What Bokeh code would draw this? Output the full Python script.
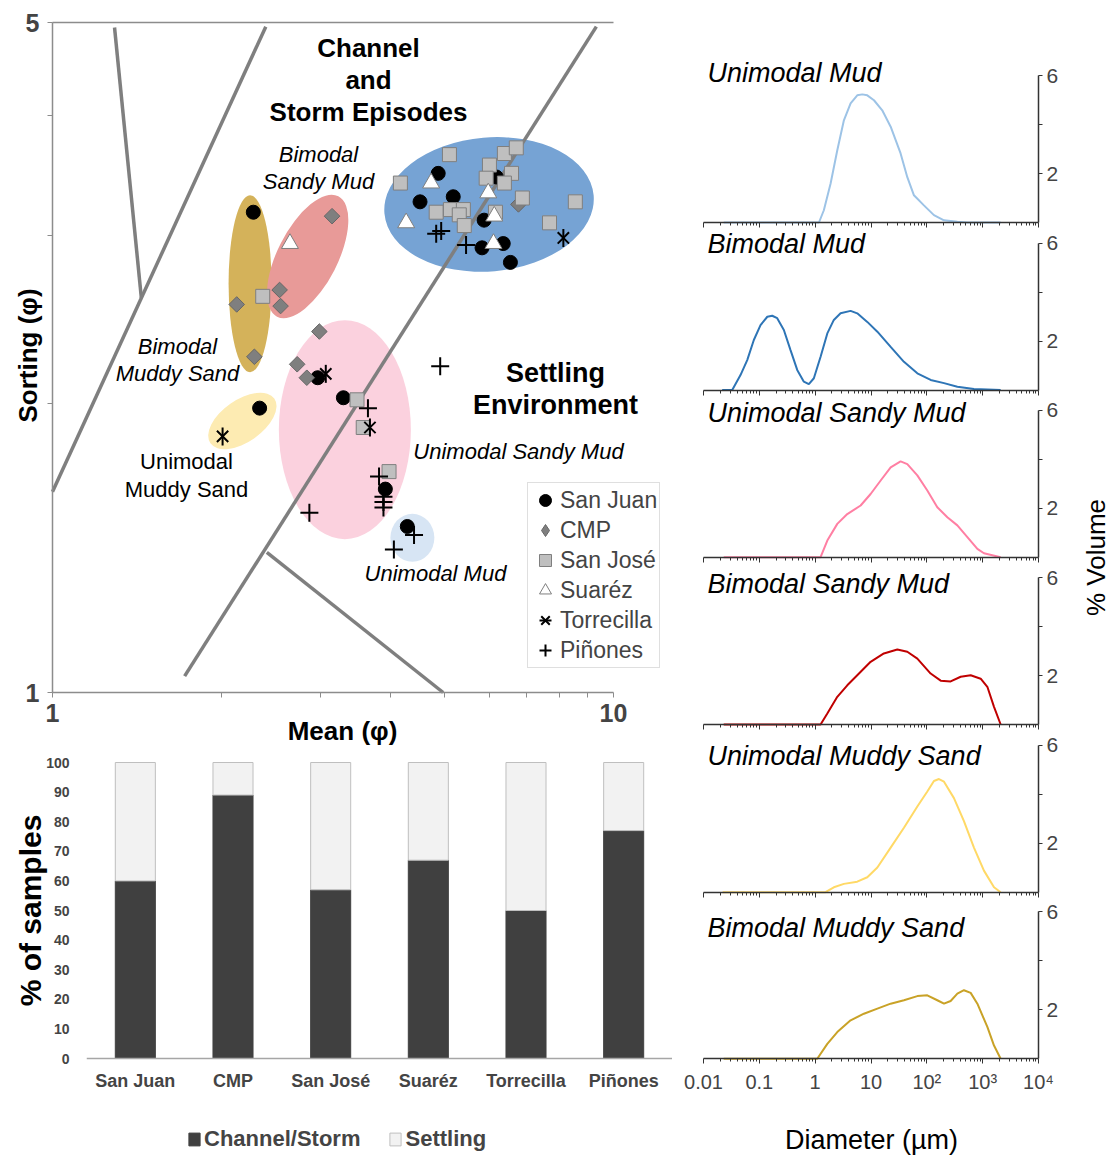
import math
from bokeh.plotting import figure
from bokeh.models import (Range1d, FactorRange, LogAxis, LinearAxis, CategoricalAxis, FixedTicker,
                          Label, Legend, LegendItem, ColumnDataSource, SingleIntervalTicker)
from bokeh.layouts import row, column
from bokeh.embed import file_html
from bokeh.resources import INLINE

FONT = "Liberation Sans"

# ---------------- scatter data: Mean (phi) vs Sorting (phi) ----------------
san_juan_mean = [4.87, 4.52, 5.18, 6.18, 5.88, 5.83, 6.36, 6.55, 2.28, 2.97, 3.30, 3.92, 4.29, 2.34]
san_juan_sort = [3.48, 3.25, 3.29, 3.45, 3.11, 2.91, 2.94, 2.81, 3.17, 2.13, 2.03, 1.63, 1.49, 1.98]

cmp_mean = [6.77, 2.13, 2.29, 3.15, 2.54, 2.55, 2.99, 2.73, 2.84]
cmp_sort = [3.23, 2.54, 2.24, 3.14, 2.63, 2.53, 2.38, 2.20, 2.13]

san_jose_mean = [5.10, 6.39, 6.71, 6.01, 4.17, 6.58, 5.93, 6.39, 6.88, 8.55, 4.83, 5.12, 5.40,
                 5.31, 5.42, 6.16, 7.69, 2.37, 3.49, 3.58, 3.98]
san_jose_sort = [3.64, 3.65, 3.70, 3.55, 3.40, 3.48, 3.44, 3.40, 3.28, 3.25, 3.17, 3.19, 3.19,
                 3.15, 3.07, 3.17, 3.09, 2.59, 2.02, 1.89, 1.70]

suarez_mean = [4.73, 4.27, 5.98, 6.13, 6.11, 2.65]
suarez_sort = [3.40, 3.09, 3.32, 3.14, 2.94, 2.94]

torrecilla_mean = [8.14, 2.01, 3.07, 3.68]
torrecilla_sort = [2.98, 1.85, 2.15, 1.89]

pinones_mean = [4.83, 4.93, 5.46, 4.91, 3.65, 3.82, 3.89, 3.89, 3.89, 2.87, 4.41, 4.06]
pinones_sort = [3.01, 3.03, 2.93, 2.19, 1.98, 1.68, 1.60, 1.58, 1.56, 1.54, 1.46, 1.41]

# environment boundary lines
bound_x0 = [1.29, 2.40, 9.32, 2.41]
bound_y0 = [4.94, 4.95, 4.95, 1.40]
bound_x1 = [1.44, 1.00, 1.72, 4.97]
bound_y1 = [2.58, 1.62, 1.04, 1.00]

# group ellipses (centre in data units, size in pixels)
ell_mean = [6.0, 2.25, 2.85, 3.32, 2.18, 4.38]
ell_sort = [3.23, 2.67, 2.85, 1.88, 1.92, 1.45]
ell_w = [210, 43, 135, 132, 78, 44]
ell_h = [134, 177, 60, 219, 42, 48]
ell_angle = [5, 0, 63, 0, 35, 0]
ell_color = ["#76a3d4", "#d4b25a", "#e89a98", "#fbd1de", "#fdebb2", "#d7e5f4"]

# ---------------- bar data ----------------
sites = ["San Juan", "CMP", "San José", "Suaréz", "Torrecilla", "Piñones"]
storm_pct = [60, 89, 57, 67, 50, 77]
settling_pct = [40, 11, 43, 33, 50, 23]

# ---------------- grain size distributions ----------------
um_d = [0.023, 1.17, 1.43, 1.89, 2.49, 3.27, 4.31, 5.67, 6.98, 8.58, 11.3, 15.9, 22.5, 33.9, 44.7,
        58.8, 88.7, 134, 203, 352, 532, 2100]
um_v = [0, 0, 0.50, 1.59, 2.95, 4.17, 4.86, 5.19, 5.23, 5.19, 4.99, 4.58, 3.91, 2.82, 1.85,
        1.11, 0.70, 0.30, 0.09, 0.03, 0, 0]

bm_d = [0.0216, 0.0327, 0.046, 0.0607, 0.0797, 0.105, 0.139, 0.170, 0.209, 0.275, 0.362, 0.477,
        0.627, 0.771, 0.948, 1.25, 1.65, 2.16, 2.85, 4.31, 5.67, 8.58, 13.0, 22.5, 38.9, 67.6,
        117, 203, 352, 698, 2100]
bm_v = [0, 0, 0.61, 1.22, 2.04, 2.65, 2.99, 3.03, 2.93, 2.45, 1.63, 0.82,
        0.34, 0.24, 0.48, 1.36, 2.31, 2.86, 3.13, 3.23, 3.13, 2.78, 2.38, 1.76, 1.15, 0.68,
        0.41, 0.28, 0.13, 0.04, 0]

usm_d = [0.023, 1.25, 1.65, 2.49, 3.76, 6.52, 9.84, 14.9, 22.5, 33.9, 44.7, 67.6, 102, 154, 233,
         352, 532, 804, 1054, 2100]
usm_v = [0, 0, 0.68, 1.36, 1.76, 2.11, 2.58, 3.13, 3.67, 3.91, 3.80, 3.34, 2.72, 2.04, 1.63,
         1.30, 0.82, 0.34, 0.16, 0]

bsm_d = [0.023, 1.25, 1.65, 2.49, 3.76, 5.67, 9.84, 17.0, 29.6, 44.7, 67.6, 117, 177, 267, 404,
         610, 921, 1213, 1597, 2100]
bsm_v = [0, 0, 0.45, 1.13, 1.60, 2.01, 2.56, 2.90, 3.06, 2.97, 2.69, 2.08, 1.79, 1.76, 1.95,
         2.01, 1.87, 1.54, 0.72, 0]

ums_d = [0.022, 1.53, 2.16, 3.27, 5.67, 8.58, 13.0, 22.5, 38.9, 67.6, 102, 134, 165, 203, 306,
         462, 698, 1054, 1597, 2100]
ums_v = [0, 0, 0.20, 0.34, 0.43, 0.61, 1.01, 1.82, 2.63, 3.50, 4.11, 4.54, 4.62, 4.51, 3.84,
         2.90, 1.82, 0.88, 0.20, 0]

bms_d = [0.023, 1.09, 1.65, 2.49, 4.31, 7.47, 13.0, 22.5, 38.9, 67.6, 102, 154, 203, 267, 352,
         462, 610, 804, 1213, 1597, 2100]
bms_v = [0, 0, 0.61, 1.09, 1.57, 1.84, 2.05, 2.25, 2.39, 2.56, 2.59, 2.39, 2.25, 2.36, 2.66,
         2.80, 2.69, 2.25, 1.30, 0.54, 0]

panel_titles = ["Unimodal Mud", "Bimodal Mud", "Unimodal Sandy Mud", "Bimodal Sandy Mud",
                "Unimodal Muddy Sand", "Bimodal Muddy Sand"]
panel_colors = ["#9dc3e6", "#2e75b6", "#ff7fa3", "#c00000", "#ffd966", "#c9a227"]
panel_d = [um_d, bm_d, usm_d, bsm_d, ums_d, bms_d]
panel_v = [um_v, bm_v, usm_v, bsm_v, ums_v, bms_v]


# ---------------- layout helpers (pixel geometry -> ranges) ----------------
def log_span(v0, p0, v1, p1, lo, hi):
    d = (math.log10(v1) - math.log10(v0)) / (p1 - p0)
    return Range1d(10 ** (math.log10(v0) - (p0 - lo) * d), 10 ** (math.log10(v1) + (hi - p1) * d))


def lin_span(v0, p0, v1, p1, lo, hi):
    d = (v1 - v0) / (p1 - p0)
    return Range1d(v0 - (p0 - lo) * d, v1 + (hi - p1) * d)


def add_label(fig, x, y, text, size, style="normal", align="center", angle=0.0, color="black"):
    fig.add_layout(Label(x=x, y=y, x_units="screen", y_units="screen", text=text,
                         text_font=FONT, text_font_size=size, text_font_style=style,
                         text_align=align, text_baseline="middle", angle=angle,
                         text_color=color))


def bare_fig(w, h, **kw):
    f = figure(width=w, height=h, output_backend="svg", toolbar_location=None,
               x_axis_location=None, y_axis_location=None,
               min_border_left=0, min_border_right=0, min_border_top=0, min_border_bottom=0,
               **kw)
    f.outline_line_color = None
    f.background_fill_color = "white"
    f.border_fill_color = "white"
    f.grid.visible = False
    f.grid.grid_line_color = None
    return f


# ======================= scatter =======================
AX = "#8c8c8c"
SW, SH = 672, 745
sc = bare_fig(SW, SH, x_axis_type="log", y_axis_type="log",
              x_range=log_span(1, 52, 10, 613, 0, SW),
              y_range=log_span(1, SH - 692, 5, SH - 22, 0, SH))

xa = LogAxis(fixed_location=1, bounds=(1, 10),
             ticker=FixedTicker(ticks=[1, 10], minor_ticks=[2, 3, 4, 5, 6, 7, 8, 9]))
xa.major_label_overrides = {1: "1", 10: "10"}
ya = LogAxis(fixed_location=1, bounds=(1, 5),
             ticker=FixedTicker(ticks=[1, 5], minor_ticks=[2, 3, 4]))
ya.major_label_overrides = {1: "1", 5: "5"}
for a in (xa, ya):
    a.axis_line_color = AX
    a.axis_line_width = 1.5
    a.major_tick_line_color = AX
    a.minor_tick_line_color = AX
    a.major_tick_out = 5
    a.major_tick_in = 0
    a.minor_tick_out = 5
    a.minor_tick_in = 0
    a.major_label_text_font = FONT
    a.major_label_text_font_style = "bold"
    a.major_label_text_font_size = "25px"
xa.major_label_standoff = 6
ya.major_label_standoff = 8
sc.add_layout(xa, "below")
sc.add_layout(ya, "left")

top_ax = LogAxis(fixed_location=5, bounds=(1, 10), ticker=FixedTicker(ticks=[]),
                 axis_line_color=AX, axis_line_width=1.5, major_tick_line_color=None,
                 minor_tick_line_color=None, major_label_text_alpha=0)
sc.add_layout(top_ax, "above")

esrc = ColumnDataSource(dict(x=ell_mean, y=ell_sort, w=ell_w, h=ell_h, a=ell_angle, c=ell_color))
sc.ellipse(x="x", y="y", width="w", height="h", angle="a", angle_units="deg",
           width_units="screen", height_units="screen", fill_color="c", line_color=None,
           source=esrc)

sc.segment(x0=bound_x0, y0=bound_y0, x1=bound_x1, y1=bound_y1, line_color="#7f7f7f",
           line_width=3.5)

r_sj = sc.scatter(san_juan_mean, san_juan_sort, marker="circle", size=14,
                  fill_color="black", line_color="black")
r_cmp = sc.scatter(cmp_mean, cmp_sort, marker="square", angle=45, angle_units="deg", size=11,
                   fill_color="#7f7f7f", line_color="#666666")
# legend key for CMP (a diamond glyph; the single NaN point is never drawn in the plot)
r_cmp_key = sc.scatter(x=[math.nan], y=[math.nan], marker="diamond", size=14,
                       fill_color="#7f7f7f", line_color="#666666")
r_sjo = sc.scatter(san_jose_mean, san_jose_sort, marker="square", size=14,
                   fill_color="#bfbfbf", line_color="#7f7f7f")
r_su = sc.scatter(suarez_mean, suarez_sort, marker="triangle", size=17,
                  fill_color="white", line_color="#7f7f7f")
r_to1 = sc.scatter(torrecilla_mean, torrecilla_sort, marker="x", size=16,
                   line_color="black", line_width=2)
r_to2 = sc.scatter(torrecilla_mean, torrecilla_sort, marker="dash", angle=90, angle_units="deg",
                   size=18, line_color="black", line_width=2)
r_pi = sc.scatter(pinones_mean, pinones_sort, marker="cross", size=18,
                  line_color="black", line_width=2)

leg = Legend(items=[LegendItem(label="San Juan", renderers=[r_sj]),
                    LegendItem(label="CMP", renderers=[r_cmp_key]),
                    LegendItem(label="San José", renderers=[r_sjo]),
                    LegendItem(label="Suaréz", renderers=[r_su]),
                    LegendItem(label="Torrecilla", renderers=[r_to1, r_to2]),
                    LegendItem(label="Piñones", renderers=[r_pi])],
             location=(527, SH - 668), label_text_font=FONT, label_text_font_size="23px",
             glyph_width=30, glyph_height=30, label_height=30, spacing=0, padding=2,
             margin=0, label_standoff=0, border_line_color="#bfbfbf",
             background_fill_color="white", background_fill_alpha=1)
sc.add_layout(leg)


def sc_label(px, py, text, size, style="normal", align="center", angle=0.0):
    add_label(sc, px, SH - py, text, size, style, align, angle)


sc_label(368, 47, "Channel", "26px", "bold")
sc_label(368, 79, "and", "26px", "bold")
sc_label(368, 111, "Storm Episodes", "26px", "bold")
sc_label(318, 154, "Bimodal", "22px", "italic")
sc_label(318, 181, "Sandy Mud", "22px", "italic")
sc_label(177, 346, "Bimodal", "22px", "italic")
sc_label(177, 373, "Muddy Sand", "22px", "italic")
sc_label(186, 461, "Unimodal", "22px")
sc_label(186, 489, "Muddy Sand", "22px")
sc_label(555, 372, "Settling", "27px", "bold")
sc_label(555, 404, "Environment", "27px", "bold")
sc_label(518, 451, "Unimodal Sandy Mud", "22px", "italic")
sc_label(435, 573, "Unimodal Mud", "22px", "italic")
sc_label(27, 355, "Sorting (φ)", "26px", "bold", angle=math.pi / 2)
sc_label(342, 730, "Mean (φ)", "26px", "bold")

# ======================= bar chart =======================
BY0, BH = 745, 412
bar_y = lin_span(0, (BY0 + BH) - 1058, 100, (BY0 + BH) - 762, 0, BH)
bar = bare_fig(586, BH, x_range=FactorRange(*sites), y_range=bar_y)
src = ColumnDataSource(dict(site=sites, storm=storm_pct, settling=settling_pct))
rs = bar.vbar_stack(["storm", "settling"], x="site", width=0.41, source=src,
                    fill_color=["#404040", "#f2f2f2"], line_color=["#404040", "#bfbfbf"],
                    line_width=1)
bx = CategoricalAxis(fixed_location=0)
bx.axis_line_color = "#a6a6a6"
bx.axis_line_width = 1.5
bx.major_tick_line_color = None
bx.major_tick_out = 0
bx.major_tick_in = 0
bx.major_label_text_font = FONT
bx.major_label_text_font_style = "bold"
bx.major_label_text_font_size = "18px"
bx.major_label_standoff = 12
bar.add_layout(bx, "below")

bleg = Legend(items=[LegendItem(label="Channel/Storm", renderers=[rs[0]]),
                     LegendItem(label="Settling", renderers=[rs[1]])],
              orientation="horizontal", location=(187 - 86, (BY0 + BH) - 1152),
              glyph_width=14, glyph_height=16, label_height=24, padding=0, margin=0,
              spacing=28, label_standoff=3, border_line_color=None, background_fill_alpha=0,
              label_text_font=FONT, label_text_font_style="bold", label_text_font_size="22px")
bar.add_layout(bleg)

# y-axis labels of the bar chart (shares the y range)
bar_lab = bare_fig(86, BH, x_range=Range1d(0, 86), y_range=bar_y)
by = LinearAxis(fixed_location=86, ticker=SingleIntervalTicker(interval=10), bounds=(0, 100))
by.axis_line_color = None
by.major_tick_line_color = None
by.minor_tick_line_color = None
by.major_tick_out = 0
by.major_tick_in = 0
by.major_label_text_font = FONT
by.major_label_text_font_style = "bold"
by.major_label_text_font_size = "14px"
by.major_label_standoff = 13
bar_lab.add_layout(by, "left")
add_label(bar_lab, 30, (BY0 + BH) - 910, "% of samples", "30px", "bold", angle=math.pi / 2)

# ======================= size distribution panels =======================
decades = [0.01, 0.1, 1, 10, 100, 1000, 10000]
minors = [k * 10.0 ** e for e in range(-2, 4) for k in range(2, 10)]
PX0, PW = 672, 398
heights = [230, 167, 168, 167, 168, 257]
baselines = [222, 389.5, 556.7, 724, 891.7, 1058.3]
title_cy = [72, 243, 412, 583, 755, 927]
PAX = "#333333"

panels = []
top = 0
for i in range(6):
    h = heights[i]
    bottom = top + h
    last = (i == 5)
    p0 = bottom - baselines[i]
    q = bare_fig(PW, h, x_axis_type="log",
                 x_range=log_span(0.01, 703 - PX0, 10000, 1038 - PX0, 0, PW),
                 y_range=lin_span(0, p0, 6, p0 + 147, 0, h))
    q.line(panel_d[i], panel_v[i], line_color=panel_colors[i], line_width=2)
    qx = LogAxis(fixed_location=0, bounds=(0.01, 10000),
                 ticker=FixedTicker(ticks=decades, minor_ticks=minors))
    qx.axis_line_color = PAX
    qx.axis_line_width = 1.5
    qx.major_tick_line_color = PAX
    qx.minor_tick_line_color = PAX
    qx.major_tick_out = 5
    qx.major_tick_in = 0
    qx.minor_tick_out = 3
    qx.minor_tick_in = 0
    qx.major_label_text_font = FONT
    qx.major_label_text_font_size = "20px"
    qx.major_label_standoff = 7
    if last:
        qx.major_label_overrides = {0.01: "0.01", 0.1: "0.1", 1: "1", 10: "10",
                                    100: "10²", 1000: "10³", 10000: "10⁴"}
    else:
        qx.major_label_text_alpha = 0
    q.add_layout(qx, "below")
    qy = LinearAxis(fixed_location=10000, bounds=(0, 6),
                    ticker=FixedTicker(ticks=[2, 6], minor_ticks=[4]))
    qy.major_label_overrides = {2: "2", 6: "6"}
    qy.axis_line_color = PAX
    qy.axis_line_width = 1.5
    qy.major_tick_line_color = PAX
    qy.minor_tick_line_color = PAX
    qy.major_tick_out = 4
    qy.major_tick_in = 0
    qy.minor_tick_out = 4
    qy.minor_tick_in = 0
    qy.major_label_text_font = FONT
    qy.major_label_text_font_size = "21px"
    qy.major_label_standoff = 4
    q.add_layout(qy, "right")
    add_label(q, 707 - PX0, bottom - title_cy[i], panel_titles[i], "27px", "italic", align="left")
    if last:
        add_label(q, 871 - PX0, bottom - 1139, "Diameter (µm)", "27px")
    panels.append(q)
    top = bottom

vol = bare_fig(43, 1157, x_range=Range1d(0, 1), y_range=Range1d(0, 1))
add_label(vol, 1095 - (PX0 + PW), 1157 - 557, "% Volume", "26px", angle=math.pi / 2)

layout = row(column(sc, row(bar_lab, bar)), column(*panels), vol)

open("out.html", "w").write(file_html(layout, INLINE))
